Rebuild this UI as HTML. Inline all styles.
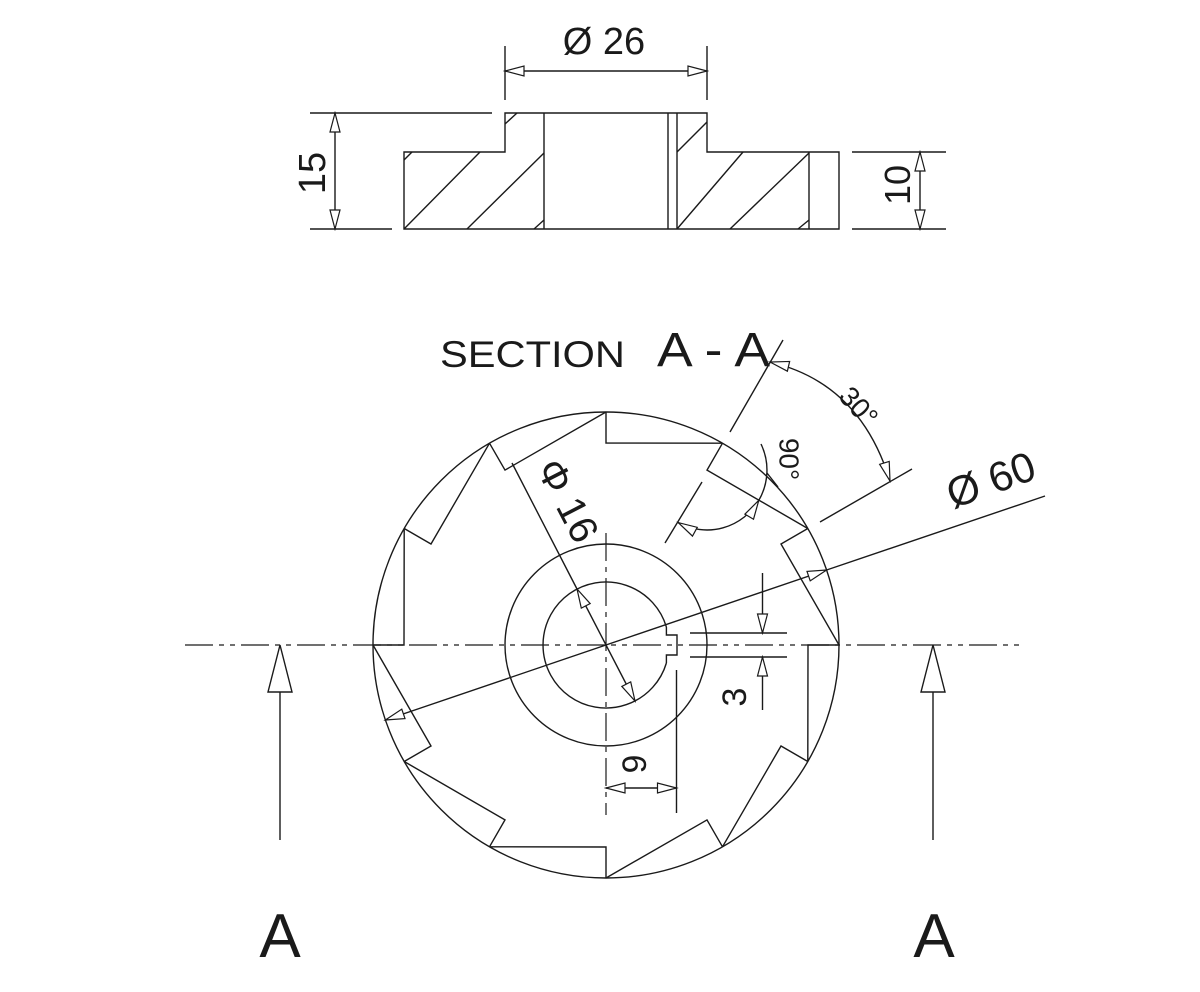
<!DOCTYPE html>
<html><head><meta charset="utf-8"><style>
html,body{margin:0;padding:0;background:#fff;}
svg{display:block;}
text{font-family:"Liberation Sans",sans-serif;fill:#1a1a1a;}
</style></head><body>
<svg width="1200" height="992" viewBox="0 0 1200 992" xmlns="http://www.w3.org/2000/svg">
<defs>
<marker id="ar" viewBox="-22 -7 24 14" markerWidth="24" markerHeight="14" refX="0" refY="0" orient="auto-start-reverse" markerUnits="userSpaceOnUse">
<path d="M0,0 L-19,-5 L-19,5 Z" fill="#fff" stroke="#1a1a1a" stroke-width="1.2"/>
</marker>
</defs>
<g fill="none" stroke="#1a1a1a" stroke-width="1.4">
<!-- TOP VIEW -->
<line x1="505" y1="46" x2="505" y2="100"/>
<line x1="707" y1="46" x2="707" y2="100"/>
<line x1="505" y1="71" x2="707" y2="71" marker-start="url(#ar)" marker-end="url(#ar)"/>
<line x1="310" y1="113" x2="492" y2="113"/>
<line x1="310" y1="229" x2="392" y2="229"/>
<line x1="335" y1="113" x2="335" y2="229" marker-start="url(#ar)" marker-end="url(#ar)"/>
<path d="M505,152 L505,113 L707,113 L707,152 L839,152 L839,229 L404,229 L404,152 Z"/>
<line x1="544" y1="113" x2="544" y2="229"/>
<line x1="668" y1="113" x2="668" y2="229"/>
<line x1="677" y1="113" x2="677" y2="229"/>
<line x1="809" y1="152" x2="809" y2="229"/>
<line x1="404" y1="160" x2="412" y2="152"/>
<line x1="404" y1="229" x2="480" y2="152"/>
<line x1="467" y1="229" x2="544" y2="153"/>
<line x1="534" y1="229" x2="544" y2="220"/>
<line x1="505" y1="124" x2="517" y2="113"/>
<line x1="677" y1="152" x2="707" y2="122"/>
<line x1="677" y1="229" x2="743" y2="152"/>
<line x1="730" y1="229" x2="809" y2="153"/>
<line x1="798" y1="229" x2="809" y2="220"/>
<line x1="852" y1="152" x2="946" y2="152"/>
<line x1="852" y1="229" x2="946" y2="229"/>
<line x1="920" y1="152" x2="920" y2="229" marker-start="url(#ar)" marker-end="url(#ar)"/>

<!-- MAIN VIEW -->
<line x1="185" y1="645" x2="1025" y2="645" stroke-dasharray="28 6 5 6 5 6" stroke-width="1.2"/>
<line x1="606" y1="533" x2="606" y2="815" stroke-dasharray="28 6 5 6" stroke-width="1.2"/>
<circle cx="606" cy="645" r="233"/>
<circle cx="606" cy="645" r="101"/>
<path d="M666.4,627 A63,63 0 1,0 666.4,663"/>
<path d="M666.4,627 L666.4,635 L677,635 L677,655 L666.4,655 L666.4,663"/>
<!-- teeth -->
<path d="M839,645 L808,645 L807.8,761.5"/>
<path d="M807.8,528.5 L781,544 L839,645"/>
<path d="M722.5,443.2 L707,470.1 L807.8,528.5"/>
<path d="M606,412 L606,443 L722.5,443.2"/>
<path d="M489.5,443.2 L505,470.1 L606,412"/>
<path d="M404.2,528.5 L431,544 L489.5,443.2"/>
<path d="M373,645 L404,645 L404.2,528.5"/>
<path d="M404.2,761.5 L431,746 L373,645"/>
<path d="M489.5,846.8 L505,819.9 L404.2,761.5"/>
<path d="M606,878 L606,847 L489.5,846.8"/>
<path d="M722.5,846.8 L707,819.9 L606,878"/>
<path d="M807.8,761.5 L781,746 L722.5,846.8"/>
<!-- phi 60 -->
<line x1="826.6" y1="570" x2="385.4" y2="720" marker-start="url(#ar)" marker-end="url(#ar)"/>
<line x1="826.6" y1="570" x2="1045" y2="496"/>
<!-- phi 16 -->
<line x1="512" y1="463" x2="577" y2="589"/>
<line x1="577" y1="589" x2="635" y2="701" marker-start="url(#ar)" marker-end="url(#ar)"/>
<!-- 3 dim -->
<line x1="690" y1="633" x2="787" y2="633"/>
<line x1="690" y1="657" x2="787" y2="657"/>
<line x1="762.5" y1="573" x2="762.5" y2="633" marker-end="url(#ar)"/>
<line x1="762.5" y1="710" x2="762.5" y2="657" marker-end="url(#ar)"/>
<!-- 9 dim -->
<line x1="676.5" y1="670" x2="676.5" y2="813"/>
<line x1="606" y1="788" x2="676.5" y2="788" marker-start="url(#ar)" marker-end="url(#ar)"/>
<!-- 30 deg -->
<line x1="730" y1="432" x2="783" y2="340"/>
<line x1="820" y1="522" x2="912" y2="469"/>
<path d="M770,362 Q860,383 890,481" marker-start="url(#ar)" marker-end="url(#ar)"/>
<!-- 90 deg -->
<line x1="665" y1="543" x2="702" y2="482"/>
<path d="M678.2,522.6 A60,60 0 0,0 758.8,500.3" marker-start="url(#ar)" marker-end="url(#ar)"/>
<path d="M758.8,500.3 A60,60 0 0,0 761,444"/>
<line x1="767" y1="473" x2="778" y2="487"/>
<!-- section arrows -->
<line x1="280" y1="692" x2="280" y2="840"/>
<path d="M280,645 L268,692 L292,692 Z" fill="#fff"/>
<line x1="933" y1="692" x2="933" y2="840"/>
<path d="M933,645 L921,692 L945,692 Z" fill="#fff"/>
</g>

<text x="604" y="54" font-size="38" text-anchor="middle">Ø 26</text>
<text transform="translate(325,173) rotate(-90)" font-size="38" text-anchor="middle">15</text>
<text transform="translate(910,185) rotate(-90)" font-size="36" text-anchor="middle">10</text>
<text x="440" y="367" font-size="37" textLength="185" lengthAdjust="spacingAndGlyphs">SECTION</text>
<text x="657" y="366" font-size="48" textLength="113" lengthAdjust="spacingAndGlyphs">A - A</text>
<text transform="translate(857,408) rotate(48)" font-size="28" text-anchor="middle" dominant-baseline="middle">30°</text>
<text transform="translate(787,459) rotate(90)" font-size="28" text-anchor="middle" dominant-baseline="middle">90°</text>
<text transform="translate(992,483) rotate(-20)" font-size="42" text-anchor="middle" dominant-baseline="middle">Ø 60</text>
<text transform="translate(565,502) rotate(62.7)" font-size="40" text-anchor="middle" dominant-baseline="middle">Φ 16</text>
<text transform="translate(737,697) rotate(-90)" font-size="34" text-anchor="middle" dominant-baseline="middle">3</text>
<text transform="translate(637,764) rotate(-90)" font-size="34" text-anchor="middle" dominant-baseline="middle">9</text>
<text x="280" y="957" font-size="62" text-anchor="middle">A</text>
<text x="934" y="957" font-size="62" text-anchor="middle">A</text>
</svg>
</body></html>
